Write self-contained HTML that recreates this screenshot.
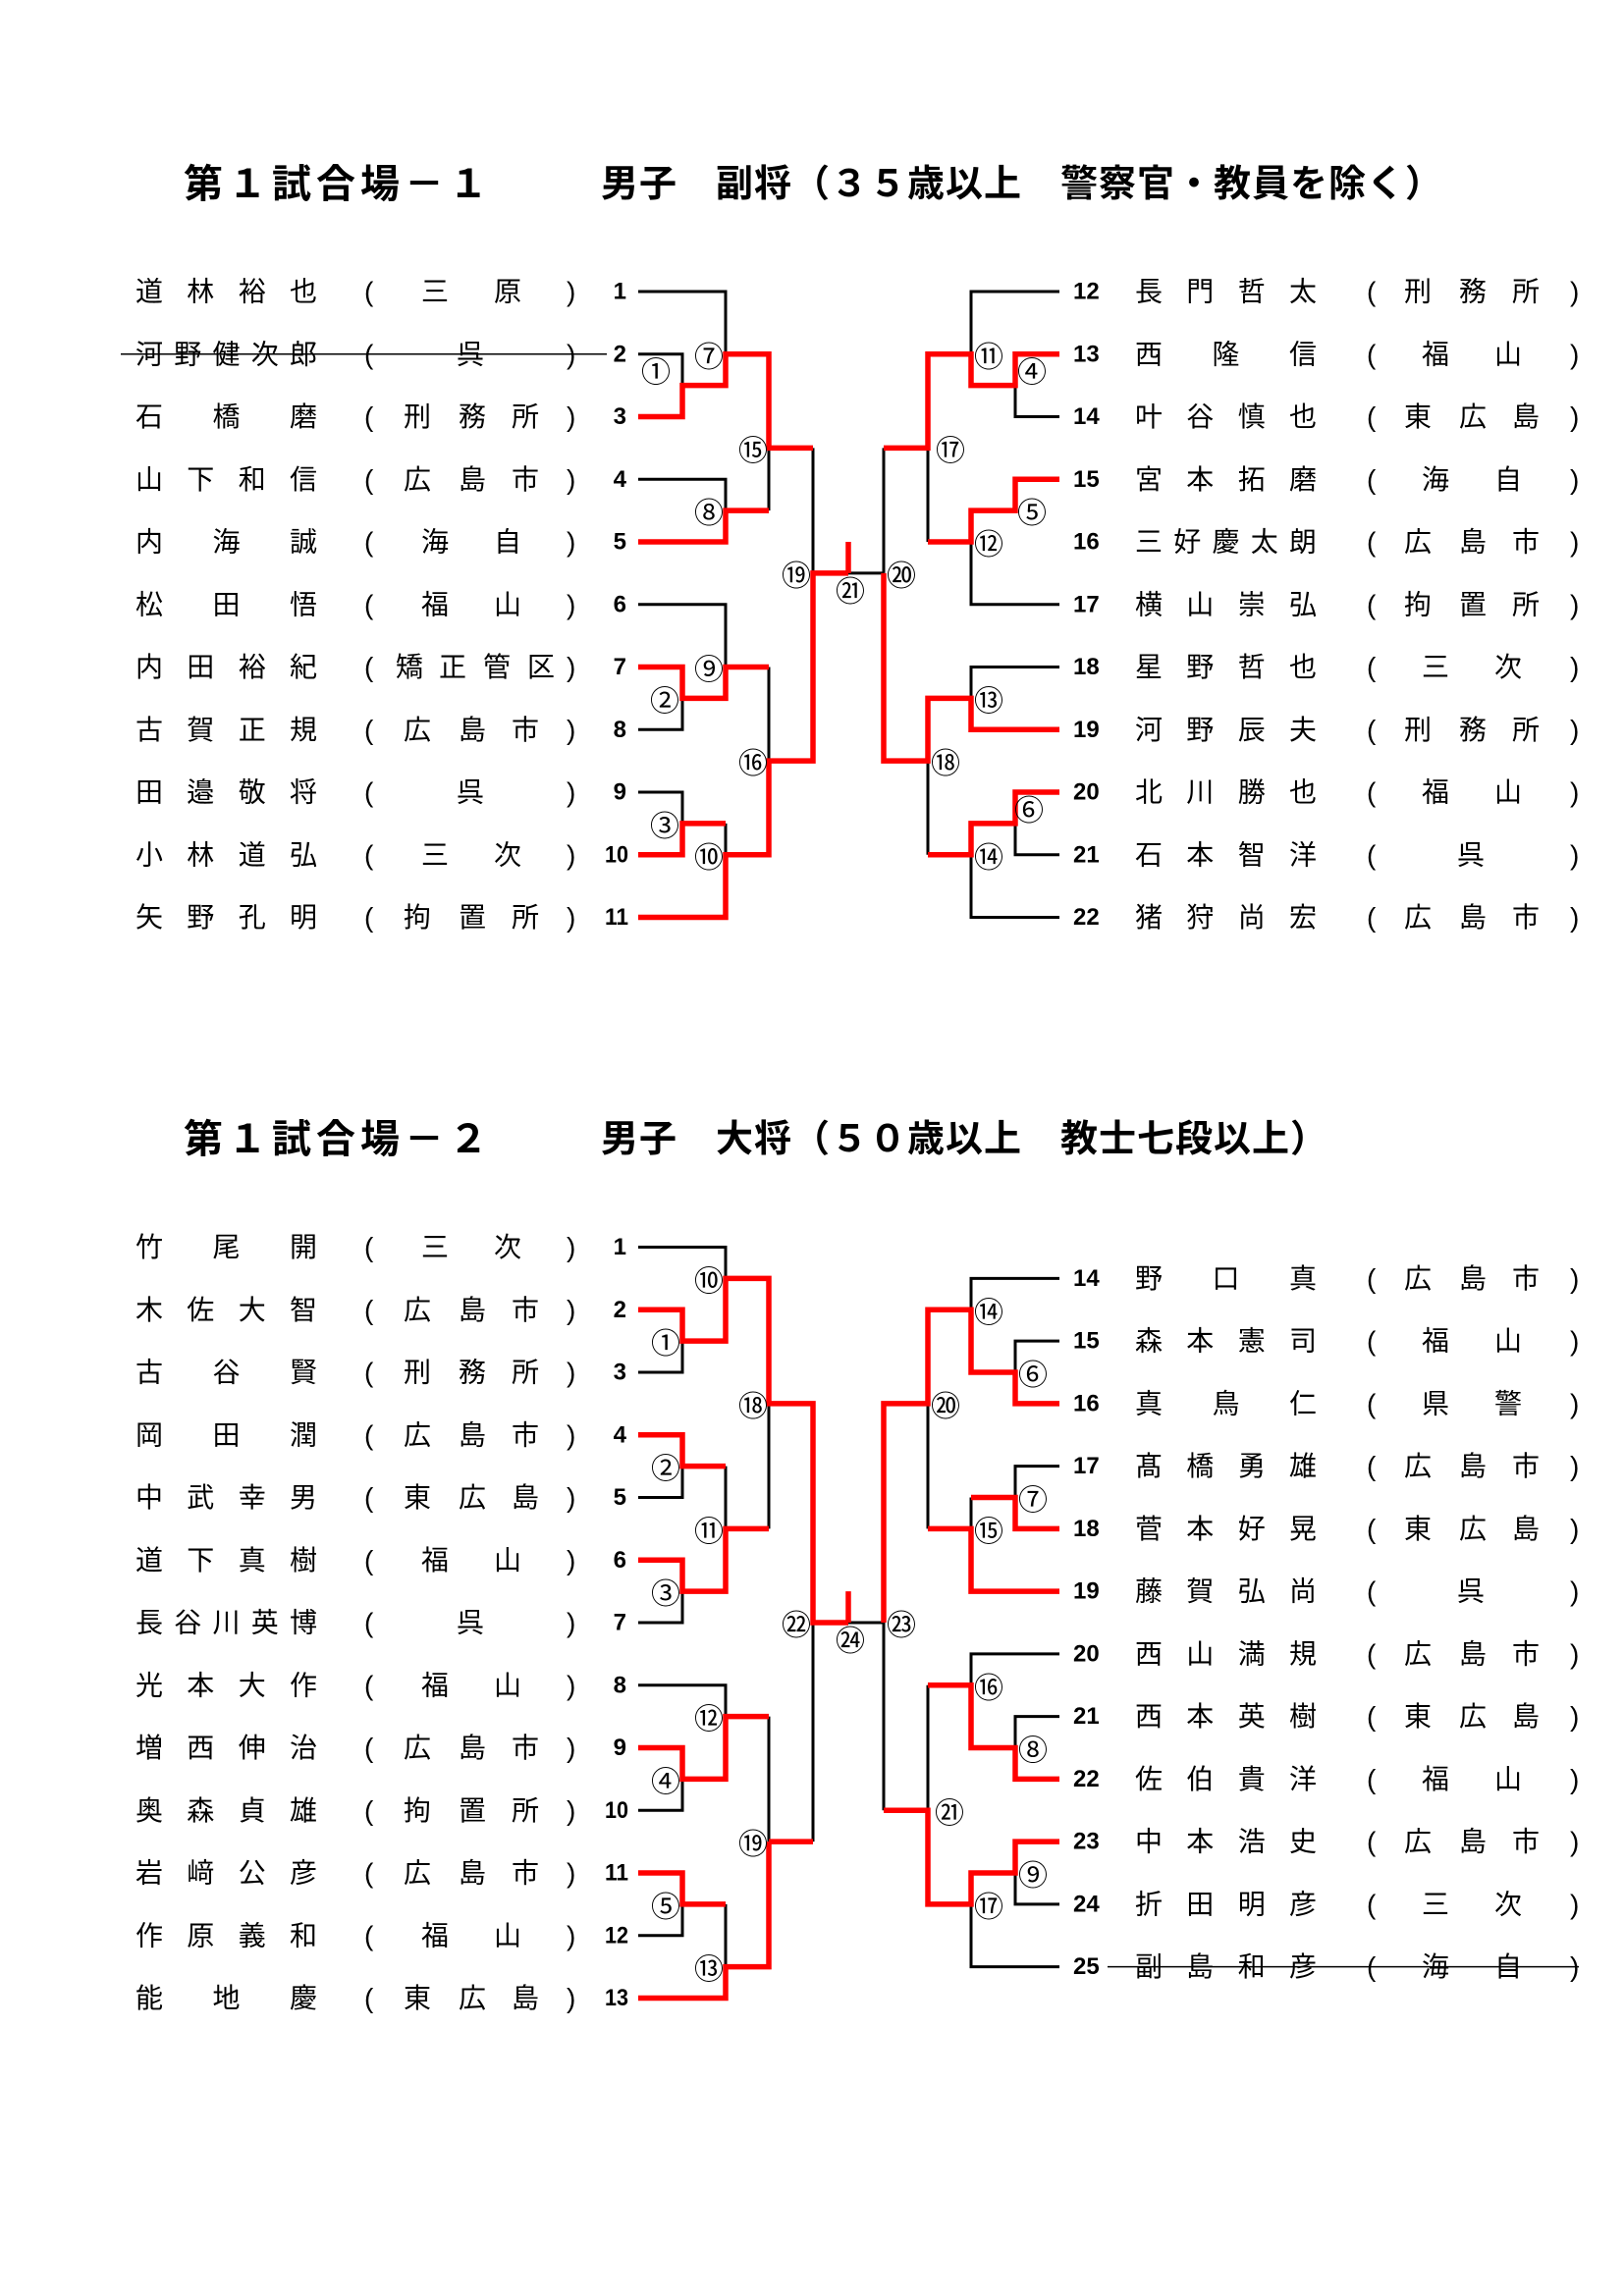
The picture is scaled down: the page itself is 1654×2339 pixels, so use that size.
<!DOCTYPE html>
<html><head><meta charset="utf-8">
<style>
html,body{margin:0;padding:0;background:#fff;}
svg{display:block;}
.t{font-family:"Liberation Sans","Noto Sans CJK JP",sans-serif;font-weight:bold;dominant-baseline:central;fill:#000;}
.n{font-family:"Liberation Sans","Noto Sans CJK JP",sans-serif;font-size:28px;dominant-baseline:central;fill:#000;}
.p{font-family:"Liberation Sans",sans-serif;font-size:28px;dominant-baseline:central;fill:#000;}
.k{font-family:"Liberation Sans",sans-serif;font-size:24px;font-weight:bold;dominant-baseline:central;fill:#000;}
.kl{text-anchor:end;}
.c{font-family:"Noto Sans CJK JP",sans-serif;font-size:30px;text-anchor:middle;dominant-baseline:central;fill:#000;}
.b{fill:none;stroke:#000;stroke-width:3;}
.r{fill:none;stroke:#ff0000;stroke-width:5.5;}
</style></head>
<body>
<svg width="1654" height="2339" viewBox="0 0 1654 2339" xmlns="http://www.w3.org/2000/svg">
<text class="t" x="187" y="188" font-size="40" letter-spacing="5">第１試合場－１</text>
<text class="t" x="612" y="188" font-size="38" letter-spacing="1">男子　副将（３５歳以上　警察官・教員を除く）</text>
<text class="t" x="187" y="1161" font-size="40" letter-spacing="5">第１試合場－２</text>
<text class="t" x="612" y="1161" font-size="38" letter-spacing="1">男子　大将（５０歳以上　教士七段以上）</text>

<path class="b" d="M650 297H739V360.8 M650 360.8H695V392.6 M783 456.4V520.1 M650 488.3H739V520.1 M828 456.4V583.9 M864 583.9H900 M650 615.8H739V679.5 M783 679.5V775.1 M650 743.3H695V711.4 M650 807H695V838.9 M739 838.9V870.8
M1079 297H989V360.8 M1079 424.5H1034V392.6 M945 456.4V552 M1079 615.8H989V552 M900 456.4V583.9 M1079 679.5H989V711.4 M945 775.1V870.8 M1034 838.9V870.8H1079 M1079 934.5H989V870.8"/>
<path class="r" d="M650 424.5H695V392.6H739V360.8H783V456.4H828 M650 552H739V520.1H783 M650 679.5H695V711.4H739V679.5H783 M650 870.8H695V838.9H739 M650 934.5H739V870.8H783V775.1H828V583.9H864 M864 552V583.9
M1079 360.8H1034V392.6H989V360.8H945V456.4H900 M1079 488.3H1034V520.1H989V552H945 M900 583.9V775.1H945V711.4H989V743.3H1079 M945 870.8H989V838.9H1034V807H1079"/>

<path class="b" d="M650 1270.5H739V1302.4 M650 1398H695V1366.1 M739 1493.6V1557.4 M650 1525.5H695V1493.6 M783 1557.4V1429.9 M650 1653H695V1621.1 M864 1653H900 M650 1716.8H739V1748.6 M783 1748.6V1876.1 M650 1844.3H695V1812.4 M828 1653V1876.1 M739 1939.9V2003.6 M650 1971.8H695V1939.9
M1079 1302.4H989V1334.3 M1079 1366.1H1034V1398 M945 1429.9V1557.4 M1079 1493.6H1034V1525.5 M989 1525.5V1557.4 M900 1653V1844.3 M1079 1684.9H989V1716.8 M1079 1748.6H1034V1780.5 M945 1716.8V1844.3 M1034 1908V1939.9H1079 M989 1939.9V2003.6H1079"/>
<path class="r" d="M650 1334.3H695V1366.1H739V1302.4H783V1429.9H828V1653H864 M864 1621.1V1653 M650 1461.8H695V1493.6H739 M650 1589.3H695V1621.1H739V1557.4H783 M650 1780.5H695V1812.4H739V1748.6H783 M783 1876.1H828 M650 1908H695V1939.9H739 M650 2035.5H739V2003.6H783V1876.1
M900 1653V1429.9H945V1334.3H989V1398H1034V1429.9H1079 M945 1557.4H989V1621.1H1079 M989 1525.5H1034V1557.4H1079 M945 1716.8H989V1780.5H1034V1812.4H1079 M900 1844.3H945V1939.9H989V1908H1034V1876.1H1079"/>

<path d="M123 360.8H618 M1128 2003.6H1608" stroke="#000" stroke-width="1.5" fill="none"/>

<text class="c" x="722" y="360.8">⑦</text>
<text class="c" x="668" y="376.7">①</text>
<text class="c" x="767" y="456.4">⑮</text>
<text class="c" x="722" y="520.1">⑧</text>
<text class="c" x="811" y="583.9">⑲</text>
<text class="c" x="866" y="599.8">㉑</text>
<text class="c" x="918" y="583.9">⑳</text>
<text class="c" x="722" y="679.5">⑨</text>
<text class="c" x="677" y="711.4">②</text>
<text class="c" x="767" y="775.1">⑯</text>
<text class="c" x="677" y="838.9">③</text>
<text class="c" x="722" y="870.8">⑩</text>
<text class="c" x="1007" y="360.8">⑪</text>
<text class="c" x="1051" y="376.7">④</text>
<text class="c" x="968" y="456.4">⑰</text>
<text class="c" x="1051" y="520.1">⑤</text>
<text class="c" x="1007" y="552">⑫</text>
<text class="c" x="1007" y="711.4">⑬</text>
<text class="c" x="963" y="775.1">⑱</text>
<text class="c" x="1048" y="823">⑥</text>
<text class="c" x="1007" y="870.8">⑭</text>

<text class="c" x="722" y="1302.4">⑩</text>
<text class="c" x="678" y="1366.1">①</text>
<text class="c" x="767" y="1429.9">⑱</text>
<text class="c" x="678" y="1493.6">②</text>
<text class="c" x="722" y="1557.4">⑪</text>
<text class="c" x="678" y="1621.1">③</text>
<text class="c" x="811" y="1653">㉒</text>
<text class="c" x="866" y="1668.9">㉔</text>
<text class="c" x="918" y="1653">㉓</text>
<text class="c" x="722" y="1748.6">⑫</text>
<text class="c" x="678" y="1812.4">④</text>
<text class="c" x="767" y="1876.1">⑲</text>
<text class="c" x="678" y="1939.9">⑤</text>
<text class="c" x="722" y="2003.6">⑬</text>
<text class="c" x="1007" y="1334.3">⑭</text>
<text class="c" x="1052" y="1398">⑥</text>
<text class="c" x="963" y="1429.9">⑳</text>
<text class="c" x="1052" y="1525.5">⑦</text>
<text class="c" x="1007" y="1557.4">⑮</text>
<text class="c" x="1007" y="1716.8">⑯</text>
<text class="c" x="1052" y="1780.5">⑧</text>
<text class="c" x="967" y="1844.3">㉑</text>
<text class="c" x="1052" y="1908">⑨</text>
<text class="c" x="1007" y="1939.9">⑰</text>

<g>
<text class="n" x="138 190.3 242.7 295" y="297">道林裕也</text><text class="p" x="371" y="297">(</text><text class="n" x="429 503" y="297">三原</text><text class="p" x="577" y="297">)</text><text class="k kl" x="638" y="297">1</text>
<text class="n" x="138 177.3 216.5 255.8 295" y="360.8">河野健次郎</text><text class="p" x="371" y="360.8">(</text><text class="n" x="465" y="360.8">呉</text><text class="p" x="577" y="360.8">)</text><text class="k kl" x="638" y="360.8">2</text>
<text class="n" x="138 216.5 295" y="424.5">石橋磨</text><text class="p" x="371" y="424.5">(</text><text class="n" x="411 467 521" y="424.5">刑務所</text><text class="p" x="577" y="424.5">)</text><text class="k kl" x="638" y="424.5">3</text>
<text class="n" x="138 190.3 242.7 295" y="488.3">山下和信</text><text class="p" x="371" y="488.3">(</text><text class="n" x="411 467 521" y="488.3">広島市</text><text class="p" x="577" y="488.3">)</text><text class="k kl" x="638" y="488.3">4</text>
<text class="n" x="138 216.5 295" y="552">内海誠</text><text class="p" x="371" y="552">(</text><text class="n" x="429 503" y="552">海自</text><text class="p" x="577" y="552">)</text><text class="k kl" x="638" y="552">5</text>
<text class="n" x="138 216.5 295" y="615.8">松田悟</text><text class="p" x="371" y="615.8">(</text><text class="n" x="429 503" y="615.8">福山</text><text class="p" x="577" y="615.8">)</text><text class="k kl" x="638" y="615.8">6</text>
<text class="n" x="138 190.3 242.7 295" y="679.5">内田裕紀</text><text class="p" x="371" y="679.5">(</text><text class="n" x="403 447 492 537" y="679.5">矯正管区</text><text class="p" x="577" y="679.5">)</text><text class="k kl" x="638" y="679.5">7</text>
<text class="n" x="138 190.3 242.7 295" y="743.3">古賀正規</text><text class="p" x="371" y="743.3">(</text><text class="n" x="411 467 521" y="743.3">広島市</text><text class="p" x="577" y="743.3">)</text><text class="k kl" x="638" y="743.3">8</text>
<text class="n" x="138 190.3 242.7 295" y="807">田邉敬将</text><text class="p" x="371" y="807">(</text><text class="n" x="465" y="807">呉</text><text class="p" x="577" y="807">)</text><text class="k kl" x="638" y="807">9</text>
<text class="n" x="138 190.3 242.7 295" y="870.8">小林道弘</text><text class="p" x="371" y="870.8">(</text><text class="n" x="429 503" y="870.8">三次</text><text class="p" x="577" y="870.8">)</text><text class="k kl" x="640" y="870.8" textLength="24" lengthAdjust="spacingAndGlyphs">10</text>
<text class="n" x="138 190.3 242.7 295" y="934.5">矢野孔明</text><text class="p" x="371" y="934.5">(</text><text class="n" x="411 467 521" y="934.5">拘置所</text><text class="p" x="577" y="934.5">)</text><text class="k kl" x="640" y="934.5" textLength="24" lengthAdjust="spacingAndGlyphs">11</text>
</g>

<g>
<text class="k" x="1093" y="297">12</text><text class="n" x="1156 1208.3 1260.7 1313" y="297">長門哲太</text><text class="p" x="1392" y="297">(</text><text class="n" x="1430 1486 1540" y="297">刑務所</text><text class="p" x="1599" y="297">)</text>
<text class="k" x="1093" y="360.8">13</text><text class="n" x="1156 1234.5 1313" y="360.8">西隆信</text><text class="p" x="1392" y="360.8">(</text><text class="n" x="1448 1522" y="360.8">福山</text><text class="p" x="1599" y="360.8">)</text>
<text class="k" x="1093" y="424.5">14</text><text class="n" x="1156 1208.3 1260.7 1313" y="424.5">叶谷慎也</text><text class="p" x="1392" y="424.5">(</text><text class="n" x="1430 1486 1540" y="424.5">東広島</text><text class="p" x="1599" y="424.5">)</text>
<text class="k" x="1093" y="488.3">15</text><text class="n" x="1156 1208.3 1260.7 1313" y="488.3">宮本拓磨</text><text class="p" x="1392" y="488.3">(</text><text class="n" x="1448 1522" y="488.3">海自</text><text class="p" x="1599" y="488.3">)</text>
<text class="k" x="1093" y="552">16</text><text class="n" x="1156 1195.3 1234.5 1273.8 1313" y="552">三好慶太朗</text><text class="p" x="1392" y="552">(</text><text class="n" x="1430 1486 1540" y="552">広島市</text><text class="p" x="1599" y="552">)</text>
<text class="k" x="1093" y="615.8">17</text><text class="n" x="1156 1208.3 1260.7 1313" y="615.8">横山崇弘</text><text class="p" x="1392" y="615.8">(</text><text class="n" x="1430 1486 1540" y="615.8">拘置所</text><text class="p" x="1599" y="615.8">)</text>
<text class="k" x="1093" y="679.5">18</text><text class="n" x="1156 1208.3 1260.7 1313" y="679.5">星野哲也</text><text class="p" x="1392" y="679.5">(</text><text class="n" x="1448 1522" y="679.5">三次</text><text class="p" x="1599" y="679.5">)</text>
<text class="k" x="1093" y="743.3">19</text><text class="n" x="1156 1208.3 1260.7 1313" y="743.3">河野辰夫</text><text class="p" x="1392" y="743.3">(</text><text class="n" x="1430 1486 1540" y="743.3">刑務所</text><text class="p" x="1599" y="743.3">)</text>
<text class="k" x="1093" y="807">20</text><text class="n" x="1156 1208.3 1260.7 1313" y="807">北川勝也</text><text class="p" x="1392" y="807">(</text><text class="n" x="1448 1522" y="807">福山</text><text class="p" x="1599" y="807">)</text>
<text class="k" x="1093" y="870.8">21</text><text class="n" x="1156 1208.3 1260.7 1313" y="870.8">石本智洋</text><text class="p" x="1392" y="870.8">(</text><text class="n" x="1484" y="870.8">呉</text><text class="p" x="1599" y="870.8">)</text>
<text class="k" x="1093" y="934.5">22</text><text class="n" x="1156 1208.3 1260.7 1313" y="934.5">猪狩尚宏</text><text class="p" x="1392" y="934.5">(</text><text class="n" x="1430 1486 1540" y="934.5">広島市</text><text class="p" x="1599" y="934.5">)</text>
</g>

<g>
<text class="n" x="138 216.5 295" y="1270.5">竹尾開</text><text class="p" x="371" y="1270.5">(</text><text class="n" x="429 503" y="1270.5">三次</text><text class="p" x="577" y="1270.5">)</text><text class="k kl" x="638" y="1270.5">1</text>
<text class="n" x="138 190.3 242.7 295" y="1334.3">木佐大智</text><text class="p" x="371" y="1334.3">(</text><text class="n" x="411 467 521" y="1334.3">広島市</text><text class="p" x="577" y="1334.3">)</text><text class="k kl" x="638" y="1334.3">2</text>
<text class="n" x="138 216.5 295" y="1398">古谷賢</text><text class="p" x="371" y="1398">(</text><text class="n" x="411 467 521" y="1398">刑務所</text><text class="p" x="577" y="1398">)</text><text class="k kl" x="638" y="1398">3</text>
<text class="n" x="138 216.5 295" y="1461.8">岡田潤</text><text class="p" x="371" y="1461.8">(</text><text class="n" x="411 467 521" y="1461.8">広島市</text><text class="p" x="577" y="1461.8">)</text><text class="k kl" x="638" y="1461.8">4</text>
<text class="n" x="138 190.3 242.7 295" y="1525.5">中武幸男</text><text class="p" x="371" y="1525.5">(</text><text class="n" x="411 467 521" y="1525.5">東広島</text><text class="p" x="577" y="1525.5">)</text><text class="k kl" x="638" y="1525.5">5</text>
<text class="n" x="138 190.3 242.7 295" y="1589.3">道下真樹</text><text class="p" x="371" y="1589.3">(</text><text class="n" x="429 503" y="1589.3">福山</text><text class="p" x="577" y="1589.3">)</text><text class="k kl" x="638" y="1589.3">6</text>
<text class="n" x="138 177.3 216.5 255.8 295" y="1653">長谷川英博</text><text class="p" x="371" y="1653">(</text><text class="n" x="465" y="1653">呉</text><text class="p" x="577" y="1653">)</text><text class="k kl" x="638" y="1653">7</text>
<text class="n" x="138 190.3 242.7 295" y="1716.8">光本大作</text><text class="p" x="371" y="1716.8">(</text><text class="n" x="429 503" y="1716.8">福山</text><text class="p" x="577" y="1716.8">)</text><text class="k kl" x="638" y="1716.8">8</text>
<text class="n" x="138 190.3 242.7 295" y="1780.5">増西伸治</text><text class="p" x="371" y="1780.5">(</text><text class="n" x="411 467 521" y="1780.5">広島市</text><text class="p" x="577" y="1780.5">)</text><text class="k kl" x="638" y="1780.5">9</text>
<text class="n" x="138 190.3 242.7 295" y="1844.3">奥森貞雄</text><text class="p" x="371" y="1844.3">(</text><text class="n" x="411 467 521" y="1844.3">拘置所</text><text class="p" x="577" y="1844.3">)</text><text class="k kl" x="640" y="1844.3" textLength="24" lengthAdjust="spacingAndGlyphs">10</text>
<text class="n" x="138 190.3 242.7 295" y="1908">岩﨑公彦</text><text class="p" x="371" y="1908">(</text><text class="n" x="411 467 521" y="1908">広島市</text><text class="p" x="577" y="1908">)</text><text class="k kl" x="640" y="1908" textLength="24" lengthAdjust="spacingAndGlyphs">11</text>
<text class="n" x="138 190.3 242.7 295" y="1971.8">作原義和</text><text class="p" x="371" y="1971.8">(</text><text class="n" x="429 503" y="1971.8">福山</text><text class="p" x="577" y="1971.8">)</text><text class="k kl" x="640" y="1971.8" textLength="24" lengthAdjust="spacingAndGlyphs">12</text>
<text class="n" x="138 216.5 295" y="2035.5">能地慶</text><text class="p" x="371" y="2035.5">(</text><text class="n" x="411 467 521" y="2035.5">東広島</text><text class="p" x="577" y="2035.5">)</text><text class="k kl" x="640" y="2035.5" textLength="24" lengthAdjust="spacingAndGlyphs">13</text>
</g>

<g>
<text class="k" x="1093" y="1302.4">14</text><text class="n" x="1156 1234.5 1313" y="1302.4">野口真</text><text class="p" x="1392" y="1302.4">(</text><text class="n" x="1430 1486 1540" y="1302.4">広島市</text><text class="p" x="1599" y="1302.4">)</text>
<text class="k" x="1093" y="1366.1">15</text><text class="n" x="1156 1208.3 1260.7 1313" y="1366.1">森本憲司</text><text class="p" x="1392" y="1366.1">(</text><text class="n" x="1448 1522" y="1366.1">福山</text><text class="p" x="1599" y="1366.1">)</text>
<text class="k" x="1093" y="1429.9">16</text><text class="n" x="1156 1234.5 1313" y="1429.9">真鳥仁</text><text class="p" x="1392" y="1429.9">(</text><text class="n" x="1448 1522" y="1429.9">県警</text><text class="p" x="1599" y="1429.9">)</text>
<text class="k" x="1093" y="1493.6">17</text><text class="n" x="1156 1208.3 1260.7 1313" y="1493.6">髙橋勇雄</text><text class="p" x="1392" y="1493.6">(</text><text class="n" x="1430 1486 1540" y="1493.6">広島市</text><text class="p" x="1599" y="1493.6">)</text>
<text class="k" x="1093" y="1557.4">18</text><text class="n" x="1156 1208.3 1260.7 1313" y="1557.4">菅本好晃</text><text class="p" x="1392" y="1557.4">(</text><text class="n" x="1430 1486 1540" y="1557.4">東広島</text><text class="p" x="1599" y="1557.4">)</text>
<text class="k" x="1093" y="1621.1">19</text><text class="n" x="1156 1208.3 1260.7 1313" y="1621.1">藤賀弘尚</text><text class="p" x="1392" y="1621.1">(</text><text class="n" x="1484" y="1621.1">呉</text><text class="p" x="1599" y="1621.1">)</text>
<text class="k" x="1093" y="1684.9">20</text><text class="n" x="1156 1208.3 1260.7 1313" y="1684.9">西山満規</text><text class="p" x="1392" y="1684.9">(</text><text class="n" x="1430 1486 1540" y="1684.9">広島市</text><text class="p" x="1599" y="1684.9">)</text>
<text class="k" x="1093" y="1748.6">21</text><text class="n" x="1156 1208.3 1260.7 1313" y="1748.6">西本英樹</text><text class="p" x="1392" y="1748.6">(</text><text class="n" x="1430 1486 1540" y="1748.6">東広島</text><text class="p" x="1599" y="1748.6">)</text>
<text class="k" x="1093" y="1812.4">22</text><text class="n" x="1156 1208.3 1260.7 1313" y="1812.4">佐伯貴洋</text><text class="p" x="1392" y="1812.4">(</text><text class="n" x="1448 1522" y="1812.4">福山</text><text class="p" x="1599" y="1812.4">)</text>
<text class="k" x="1093" y="1876.1">23</text><text class="n" x="1156 1208.3 1260.7 1313" y="1876.1">中本浩史</text><text class="p" x="1392" y="1876.1">(</text><text class="n" x="1430 1486 1540" y="1876.1">広島市</text><text class="p" x="1599" y="1876.1">)</text>
<text class="k" x="1093" y="1939.9">24</text><text class="n" x="1156 1208.3 1260.7 1313" y="1939.9">折田明彦</text><text class="p" x="1392" y="1939.9">(</text><text class="n" x="1448 1522" y="1939.9">三次</text><text class="p" x="1599" y="1939.9">)</text>
<text class="k" x="1093" y="2003.6">25</text><text class="n" x="1156 1208.3 1260.7 1313" y="2003.6">副島和彦</text><text class="p" x="1392" y="2003.6">(</text><text class="n" x="1448 1522" y="2003.6">海自</text><text class="p" x="1599" y="2003.6">)</text>
</g>
</svg>
</body></html>
